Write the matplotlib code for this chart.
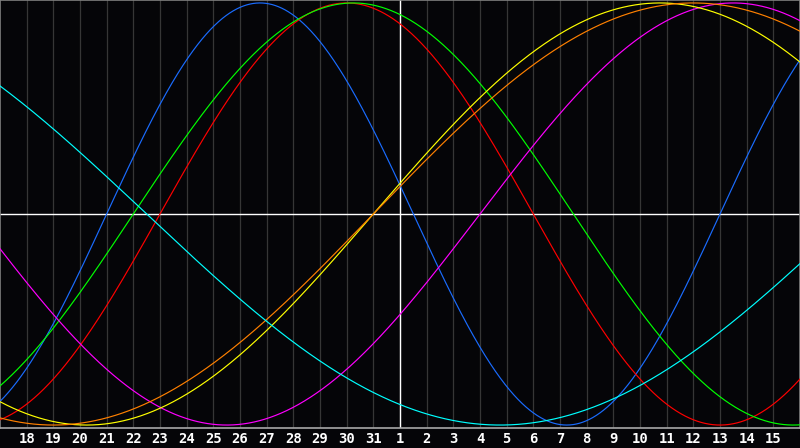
import datetime as dt
import numpy as np
import matplotlib
matplotlib.use("Agg")
import matplotlib.pyplot as plt

# ---- data ----
birth_date = dt.date(1990, 9, 4)
start_date = dt.date(2024, 7, 17)      # left edge of chart (day 17)
n_days = 30                            # visible span (17 .. 16 of next month)
cycle_names = ["Physical", "Emotional", "Intellectual", "Intuitive",
               "Aesthetic", "Awareness", "Spiritual"]
cycle_periods = [23, 28, 33, 38, 43, 48, 53]
cycle_colors = ["#1a6cff", "#ff0000", "#00ff00", "#ff00ff",
                "#ffff00", "#ff8000", "#00ffff"]

day_dates = [start_date + dt.timedelta(days=i) for i in range(n_days + 1)]
tick_pos = list(range(1, n_days))
tick_labels = [str(day_dates[i].day) for i in tick_pos]
month_start = next(i for i, d in enumerate(day_dates) if d.day == 1)

# ---- figure ----
fig = plt.figure(figsize=(8, 4.48), dpi=100, facecolor="#050508")
ax = fig.add_axes([0, 20 / 448, 1, 428 / 448])
ax.set_facecolor("#050508")

t = np.linspace(0, n_days, 2000)
offset = (start_date - birth_date).days
for name, period, color in zip(cycle_names, cycle_periods, cycle_colors):
    ax.plot(t, np.sin(2 * np.pi * (t + offset) / period), color=color,
            lw=0.85, zorder=3)

for i in range(1, n_days):
    ax.axvline(i, color="#363636", lw=0.9, zorder=1)
ax.axvline(month_start, color="white", lw=1.0, zorder=2)
ax.axhline(0, color="white", lw=1.0, zorder=2)

ax.set_xlim(0, n_days)
ax.set_ylim(-1.014, 1.014)
ax.set_yticks([])
ax.set_xticks(tick_pos)
ax.set_xticklabels(tick_labels, color="white", fontsize=10,
                   fontweight="bold", family="DejaVu Sans Mono")
ax.tick_params(axis="x", length=0, pad=3)
for side in ["top", "left", "right"]:
    ax.spines[side].set_color("#808080")
    ax.spines[side].set_linewidth(1.2)
ax.spines["bottom"].set_color("#a8a8a8")
ax.spines["bottom"].set_linewidth(1.2)

fig.savefig("out.png", dpi=100, facecolor=fig.get_facecolor())
